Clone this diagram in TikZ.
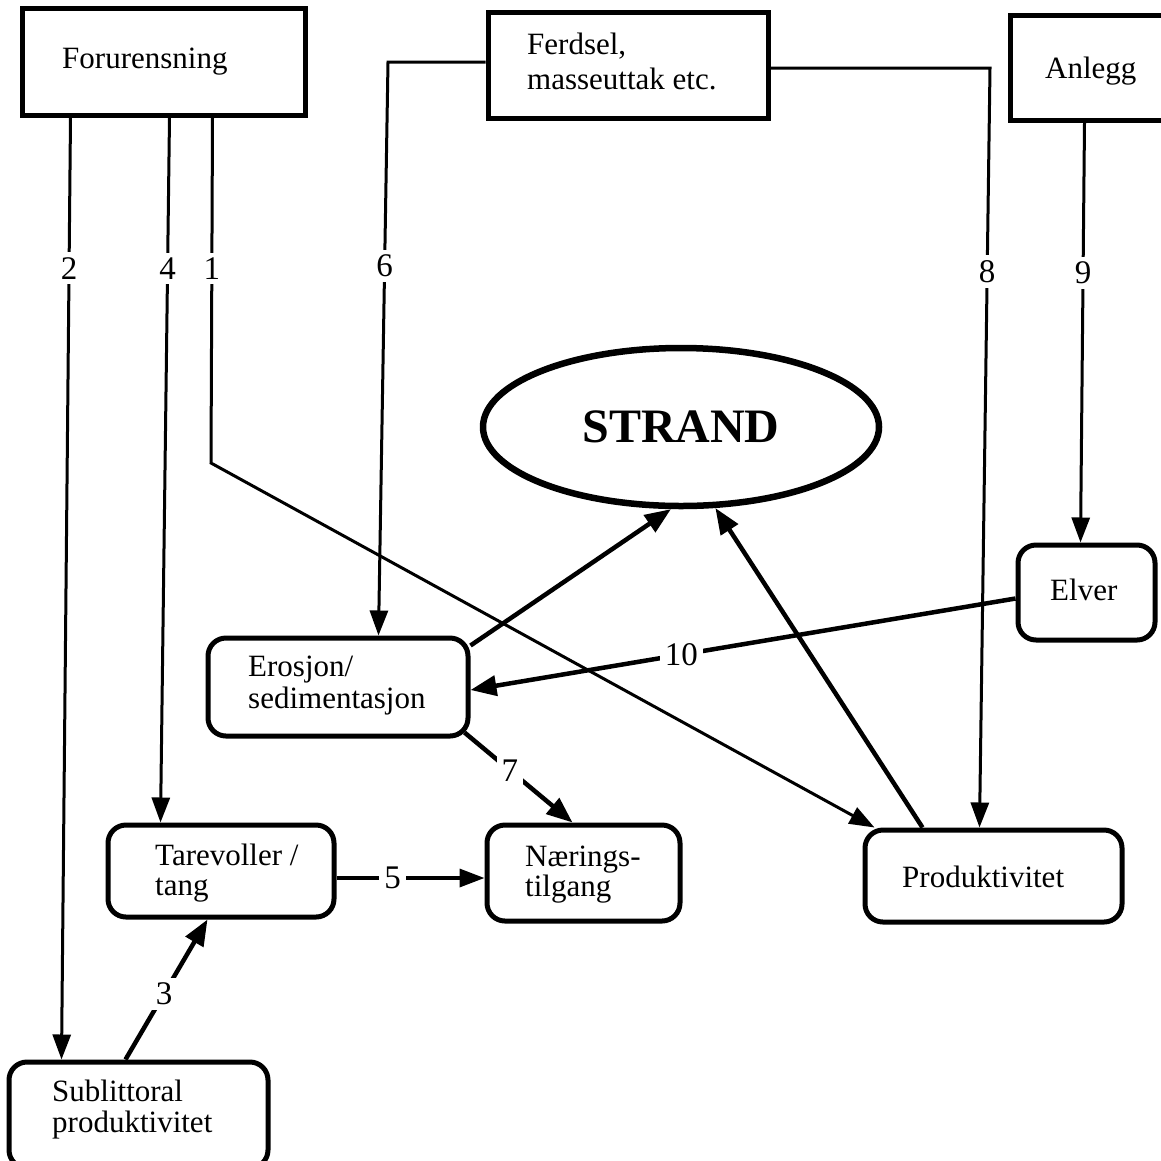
\documentclass[tikz,border=0pt]{standalone}
\usepackage{fontspec}
\setmainfont{Liberation Serif}
\usetikzlibrary{arrows.meta,shapes.geometric,calc,backgrounds}

\begin{document}
\begin{tikzpicture}[x=1pt,y=-1pt,
  srcbox/.style={draw, line width=5pt, fill=white, inner sep=0pt},
  effbox/.style={srcbox, rounded corners=18pt},
  lbl/.style={inner sep=0pt, font=\fontsize{31}{32}\selectfont, align=left},
  num/.style={fill=white, inner sep=5pt, font=\fontsize{33}{34}\selectfont},
  thinlink/.style={line width=3pt, -{Triangle[length=25pt,width=18pt]}},
  thicklink/.style={line width=4.5pt, -{Triangle[length=26pt,width=20pt]}},
  midlink/.style={line width=3.5pt, -{Triangle[length=25pt,width=18pt]}},
]
\useasboundingbox (0,0) rectangle (1161,1160);

% source boxes along the top
\node[srcbox, minimum width=283pt, minimum height=107pt] (forur) at (163.5,61.5) {};
\node[srcbox, minimum width=280pt, minimum height=106pt] (ferd) at (628,65) {};
\node[srcbox, minimum width=170pt, minimum height=105pt] (anl) at (1095,67.5) {};

% effect boxes
\node[effbox, minimum width=137pt, minimum height=95pt] (elver) at (1086.5,592.5) {};
\node[effbox, minimum width=260pt, minimum height=98pt] (eros) at (338,687) {};
\node[effbox, minimum width=226pt, minimum height=92pt] (tare) at (221,871) {};
\node[effbox, minimum width=193pt, minimum height=96pt] (naer) at (583.5,873) {};
\node[effbox, minimum width=257pt, minimum height=92pt] (prod) at (993.5,876) {};
\node[effbox, minimum width=259pt, minimum height=106pt] (sub) at (138.5,1115) {};

% central ellipse
\node[ellipse, draw, line width=6.5pt, fill=white, minimum width=396pt, minimum height=158pt,
      inner sep=0pt, font=\fontsize{48}{50}\selectfont\bfseries] (strand) at (681,427) {STRAND};

% box texts
\node[lbl, anchor=base west] (forur-t) at (62,68) {Forurensning};
\node[lbl, anchor=north west, font=\fontsize{31}{35}\selectfont] (ferd-t) at (527,33) {Ferdsel,\\masseuttak etc.};
\node[lbl, anchor=base west] (anl-t) at (1045,78) {Anlegg};
\node[lbl, anchor=base west] (elver-t) at (1050,600) {Elver};
\node[lbl, anchor=north west] (eros-t) at (248,656) {Erosjon/\\sedimentasjon};
\node[lbl, anchor=north west, font=\fontsize{31}{30}\selectfont] (tare-t) at (155,844) {Tarevoller /\\tang};
\node[lbl, anchor=north west, font=\fontsize{31}{30}\selectfont] (naer-t) at (525,846) {Nærings-\\tilgang};
\node[lbl, anchor=base west] (prod-t) at (902,887) {Produktivitet};
\node[lbl, anchor=north west, font=\fontsize{31}{31}\selectfont] (sub-t) at (52,1080) {Sublittoral\\produktivitet};

% corner points of the routed connectors
\coordinate (k1) at (211,463);
\coordinate (k6) at (388,62);
\coordinate (k8) at (990,68);

\begin{scope}[on background layer]
  \fill[white] (0,0) rectangle (1161,1160);

  % thin connectors from the source boxes
  \draw[thinlink] ($(forur.south west)+(51,0)$) -- node[num,pos=0.16] (n2) {2} ($(sub.north west)+(55,0)$);
  \draw[thinlink] ($(forur.south west)+(150,0)$) -- node[num,pos=0.214] (n4) {4} ($(tare.north west)+(55,0)$);
  \draw[thinlink] ($(forur.south west)+(193,0)$) -- node[num,pos=0.437] (n1) {1} (k1) -- ($(prod.north west)+(12,0)$);
  \draw[thinlink] ($(ferd.west)+(0,-3)$) -- (k6) -- node[num,pos=0.356] (n6) {6} ($(eros.north west)+(173,0)$);
  \draw[thinlink] ($(ferd.east)+(0,3)$) -- (k8) -- node[num,pos=0.268] (n8) {8} ($(prod.north west)+(117,0)$);
  \draw[thinlink] ($(anl.south west)+(77,0)$) -- node[num,pos=0.358] (n9) {9} ($(elver.north west)+(65,0)$);

  % heavier connectors between the effect boxes
  \draw[thicklink] ($(elver.west)+(0,6)$) -- node[num,pos=0.613] (n10) {10} ($(eros.east)+(0,3)$);
  \draw[thicklink] ($(eros.north east)+(0,10)$) -- (strand.263);
  \draw[thicklink] ($(prod.north west)+(60,0)$) -- (strand.293);
  \draw[thicklink] ($(eros.south east)+(-6,-6)$) -- node[num,pos=0.42] (n7) {7} ($(naer.north west)+(88,0)$);
  \draw[midlink] ($(tare.east)+(0,7)$) -- node[num,pos=0.38] (n5) {5} ($(naer.west)+(0,5)$);
  \draw[thicklink] ($(sub.north west)+(119,0)$) -- node[num,pos=0.47] (n3) {3} ($(tare.south west)+(102,0)$);
\end{scope}
\end{tikzpicture}
\end{document}
